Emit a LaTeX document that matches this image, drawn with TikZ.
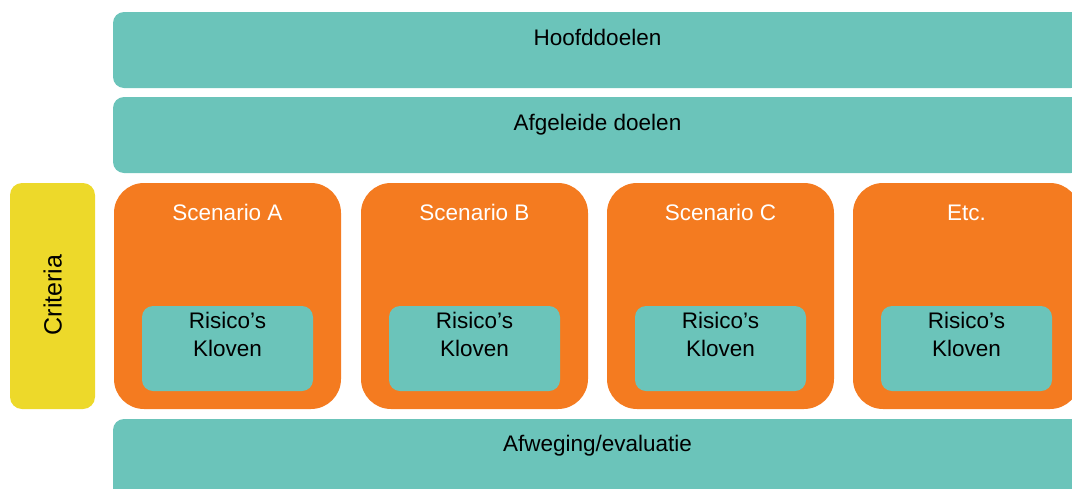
\documentclass[tikz,border=0pt]{standalone}
\usepackage{fontspec}
\setmainfont{Liberation Sans}
\definecolor{tealc}{HTML}{6BC4BA}
\definecolor{orangec}{HTML}{F47B20}
\definecolor{yellowc}{HTML}{EDD92A}
\begin{document}
\begin{tikzpicture}[x=1pt,y=-1pt,
  bar/.style={fill=tealc,draw=none,rounded corners=11pt,inner sep=0pt,outer sep=0pt,minimum width=969pt,minimum height=76pt},
  scen/.style={fill=orangec,draw=none,rounded corners=30pt,inner sep=0pt,outer sep=0pt,minimum width=227pt,minimum height=226pt},
  inner/.style={fill=tealc,draw=none,rounded corners=11pt,inner sep=0pt,outer sep=0pt,minimum width=171pt,minimum height=85pt},
  crit/.style={fill=yellowc,draw=none,rounded corners=12pt,inner sep=0pt,outer sep=0pt,minimum width=85pt,minimum height=226pt},
  lbl/.style={inner sep=0pt,anchor=base,font=\fontsize{22.5}{28}\selectfont,text=black},
  wlbl/.style={lbl,text=white}]
\useasboundingbox (0,0) rectangle (1072,488);
\clip (0,0) rectangle (1072,488);
\node[bar] (hoofd) at (597.5,50) {};
\node[lbl] (thoofd) at (597.5,45) {Hoofddoelen};
\node[bar] (afgel) at (597.5,135) {};
\node[lbl] (tafgel) at (597.5,130) {Afgeleide doelen};
\node[crit] (crit) at (52.5,296) {};
\node[lbl,rotate=90,font=\fontsize{25}{30}\selectfont] (tcrit) at (61.5,295) {Criteria};
\foreach \n/\x/\t in {a/227.5/Scenario A,b/474.5/Scenario B,c/720.5/Scenario C,d/966.5/Etc.}{
  \node[scen] (s\n) at (\x,296) {};
  \node[wlbl] (ts\n) at (\x,220) {\t};
  \node[inner] (r\n) at (\x,348.5) {};
  \node[lbl] (tr\n) at (\x,328) {Risico’s};
  \node[lbl] (tk\n) at (\x,356) {Kloven};
}
\node[bar,minimum height=81pt] (afw) at (597.5,459.5) {};
\node[lbl] (tafw) at (597.5,451) {Afweging/evaluatie};
\end{tikzpicture}
\end{document}
